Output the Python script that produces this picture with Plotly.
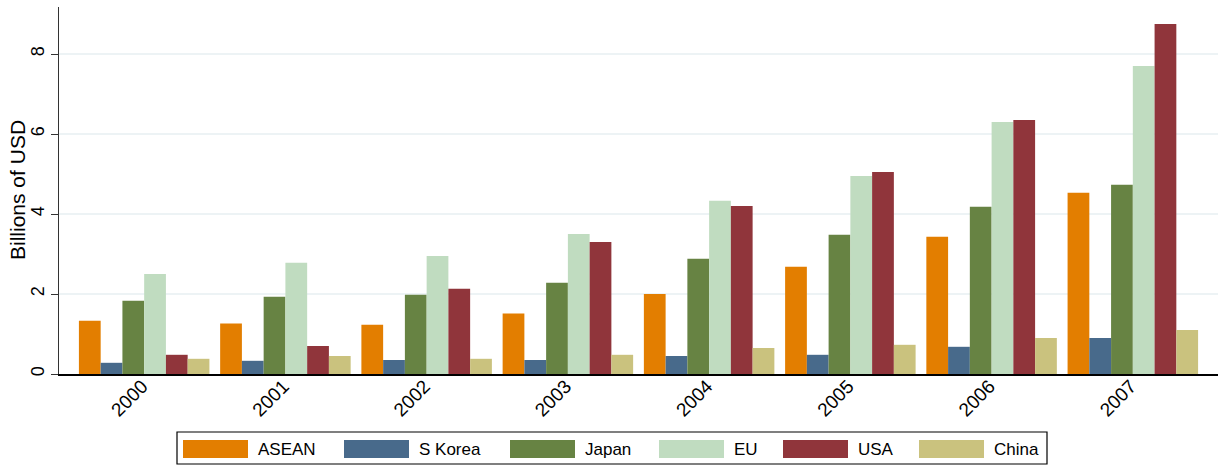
import plotly.graph_objects as go

years = ["2000", "2001", "2002", "2003", "2004", "2005", "2006", "2007"]
series_names = ["ASEAN", "S Korea", "Japan", "EU", "USA", "China"]
asean = [1.33, 1.26, 1.23, 1.51, 2.00, 2.68, 3.43, 4.53]
s_korea = [0.28, 0.33, 0.35, 0.35, 0.45, 0.48, 0.68, 0.90]
japan = [1.83, 1.93, 1.98, 2.28, 2.88, 3.48, 4.18, 4.73]
eu = [2.50, 2.78, 2.95, 3.50, 4.33, 4.95, 6.30, 7.70]
usa = [0.48, 0.70, 2.13, 3.30, 4.20, 5.05, 6.35, 8.75]
china = [0.38, 0.45, 0.38, 0.48, 0.65, 0.73, 0.90, 1.10]
colors = ["#E37E00", "#486A8B", "#678343", "#C0DCC0", "#90353B", "#CAC27E"]
y_ticks = [0, 2, 4, 6, 8]
y_title = "Billions of USD"

series_values = [asean, s_korea, japan, eu, usa, china]

W, H = 1225, 465
ml, mr, mt, mb = 59, 7, 7, 91
pw, ph = W - ml - mr, H - mt - mb

fig = go.Figure()
for name, vals, col in zip(series_names, series_values, colors):
    fig.add_trace(go.Bar(x=years, y=vals, name=name, marker=dict(color=col, line=dict(width=0)),
                         showlegend=False))

def px_x(x):
    return (x - ml) / pw

def px_y(y):
    return (H - mb - y) / ph

# custom legend (box + swatches + labels)
shapes = [dict(type="rect", xref="paper", yref="paper", x0=px_x(177), x1=px_x(1047),
               y0=px_y(464), y1=px_y(432), line=dict(color="#000000", width=1.2), fillcolor="white", layer="above")]
annotations = []
sw_left = [183, 344, 510, 659, 783, 919]
for name, col, sx in zip(series_names, colors, sw_left):
    shapes.append(dict(type="rect", xref="paper", yref="paper", x0=px_x(sx), x1=px_x(sx + 65),
                       y0=px_y(458), y1=px_y(440), line=dict(width=0), fillcolor=col, layer="above"))
    annotations.append(dict(xref="paper", yref="paper", x=px_x(sx + 73), y=px_y(449), text=name,
                            showarrow=False, xanchor="left", yanchor="middle",
                            font=dict(size=17, color="#000000", family="Liberation Sans, Arial")))

# y-axis title
annotations.append(dict(xref="paper", yref="paper", x=px_x(17), y=px_y(190), text=y_title,
                        textangle=-90, showarrow=False, xanchor="center", yanchor="middle",
                        font=dict(size=21, color="#000000", family="Liberation Sans, Arial")))

fig.update_layout(
    width=W, height=H,
    margin=dict(l=ml, r=mr, t=mt, b=mb, autoexpand=False),
    paper_bgcolor="white", plot_bgcolor="white",
    barmode="group", bargap=0.076, bargroupgap=0,
    font=dict(family="Liberation Sans, Arial", color="#000000"),
    shapes=shapes, annotations=annotations,
    xaxis=dict(type="category", range=[-0.603, 7.603], tickangle=-45, tickfont=dict(size=19),
               showline=True, linecolor="#000000", linewidth=1.5, ticks="", showgrid=False,
               zeroline=False, ticklabelstandoff=-8, ticklabelshift=-2, automargin=False),
    yaxis=dict(range=[0, 9.175], tickvals=y_ticks, tickangle=-90, tickfont=dict(size=18),
               ticks="outside", ticklen=7, tickcolor="#333333", showline=True, linecolor="#333333",
               linewidth=1.2, showgrid=True, gridcolor="#EDF3F5", gridwidth=1.5, zeroline=False,
               automargin=False),
)

fig.write_html("out.html", config={"displayModeBar": False},
               post_script="document.body.style.margin='0';document.body.style.overflow='hidden';")
